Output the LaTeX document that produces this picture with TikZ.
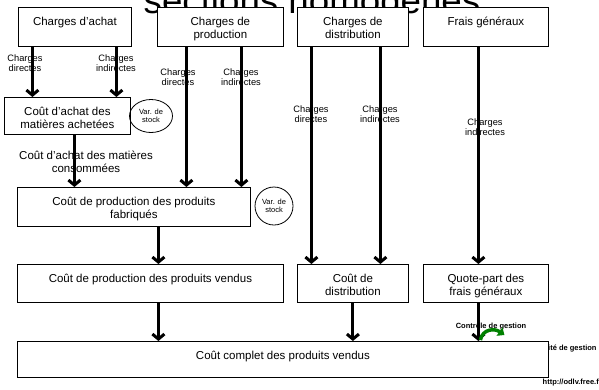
\documentclass[tikz,border=0pt]{standalone}
\usepackage{fontspec}
\setmainfont{Liberation Sans}
\usetikzlibrary{arrows.meta,shapes.geometric,calc}
\newcommand{\deuxlignes}[1]{\begin{tabular}[t]{@{}c@{}}#1\end{tabular}}

\begin{document}
\begin{tikzpicture}[x=1pt, y=-1pt,
  box/.style 2 args={draw, fill=white, line width=0.8pt, anchor=north west, inner sep=0pt,
    font=\fontsize{11.5}{13}\selectfont, text height=18pt,
    minimum width=#1, text depth=#2},
  stock/.style={draw, ellipse, line width=0.8pt, inner sep=0pt, align=center,
    font=\fontsize{7.5}{8}\selectfont},
  charge/.style={align=center, inner sep=0pt, font=\fontsize{9.3}{10}\selectfont},
  tag/.style={inner sep=0pt, font=\bfseries\fontsize{7.5}{8}\selectfont},
  flow/.style={line width=3pt, -{Straight Barb[length=5pt,width=12pt]}}]
\useasboundingbox (0,0) rectangle (599,389);

\node [anchor=base, inner sep=0pt, font=\fontsize{36.7}{40}\selectfont] (titre) at (312,13) {sections homogènes};

% premier niveau
\node [box={113pt}{21pt}] (achat) at (18,7) {Charges d'achat};
\node [box={126pt}{21pt}] (prod) at (157,7) {\deuxlignes{Charges de\\production}};
\node [box={111pt}{21pt}] (dist) at (297,7) {\deuxlignes{Charges de\\distribution}};
\node [box={125pt}{21pt}] (frais) at (423,7) {Frais généraux};

\node [box={126pt}{19pt}] (cma) at (4,97) {\deuxlignes{Coût d'achat des\\matières achetées}};
\node [stock, minimum width=43pt, minimum height=33pt] (var1) at (151,116) {Var. de\\stock};

\node [box={233pt}{21pt}] (cpf) at (17,187) {\deuxlignes{Coût de production des produits\\fabriqués}};
\node [stock, minimum width=38pt, minimum height=38pt] (var2) at (274,206) {Var. de\\stock};

\node [box={266pt}{20pt}] (cpv) at (17,264) {Coût de production des produits vendus};
\node [box={111pt}{20pt}] (cdist) at (297,264) {\deuxlignes{Coût de\\distribution}};
\node [box={125pt}{20pt}] (qp) at (423,264) {\deuxlignes{Quote-part des\\frais généraux}};

\node [box={531pt}{18pt}] (ccpv) at (17,341) {Coût complet des produits vendus};

% textes des fleches
\node [charge] (l1) at (25,63) {Charges\\directes};
\node [charge] (l2) at (116,63) {Charges\\indirectes};
\node [charge] (l3) at (178,77) {Charges\\directes};
\node [charge] (l4) at (241,77) {Charges\\indirectes};
\node [charge] (l5) at (311,114) {Charges\\directes};
\node [charge] (l6) at (380,114) {Charges\\indirectes};
\node [charge] (l7) at (485,127) {Charges\\indirectes};
\node [align=center, inner sep=0pt, font=\fontsize{11.5}{13}\selectfont] (l8) at (86,162) {Coût d'achat des matières\\consommées};

\node [tag] (cg) at (491,326) {Contrôle de gestion};
\node [tag, anchor=west] (cptg) at (548,349) {ité de gestion};
\node [tag, anchor=east] (url) at (599,383) {http://odlv.free.f};

% fleches
\draw [flow] ([xshift=-42.5]achat.south) coordinate (a1) -- (a1 |- cma.north);
\draw [flow] ([xshift=41.5]achat.south) coordinate (a2) -- (a2 |- cma.north);
\draw [flow] ([xshift=-34]prod.south) coordinate (b1) -- (b1 |- cpf.north);
\draw [flow] ([xshift=21]prod.south) coordinate (b2) -- (b2 |- cpf.north);
\draw [flow] ([xshift=-41.5]dist.south) coordinate (d1) -- (d1 |- cdist.north);
\draw [flow] ([xshift=27.5]dist.south) coordinate (d2) -- (d2 |- cdist.north);
\draw [flow] ([xshift=-7.5]frais.south) coordinate (e1) -- (e1 |- qp.north);
\draw [flow] ([xshift=7]cma.south) coordinate (c1) -- (c1 |- cpf.north);
\draw [flow] ([xshift=24.5]cpf.south) coordinate (f1) -- (f1 |- cpv.north);
\draw [flow] ([xshift=8]cpv.south) coordinate (g1) -- (g1 |- ccpv.north);
\draw [flow] (cdist.south) -- (cdist.south |- ccpv.north);
\draw [flow] ([xshift=-7.5]qp.south) coordinate (j1) -- (j1 |- ccpv.north);

% retour vert
\coordinate (v0) at ($(j1 |- ccpv.north)+(2,-1)$);
\coordinate (v1) at ($(v0)+(24,-5)$);
\draw [green!50!black, line width=3.5pt, -{Triangle[length=6pt,width=10pt]}]
  (v0) .. controls ($(v0)+(2,-11)$) and ($(v0)+(14,-12)$) .. (v1);
\end{tikzpicture}
\end{document}
